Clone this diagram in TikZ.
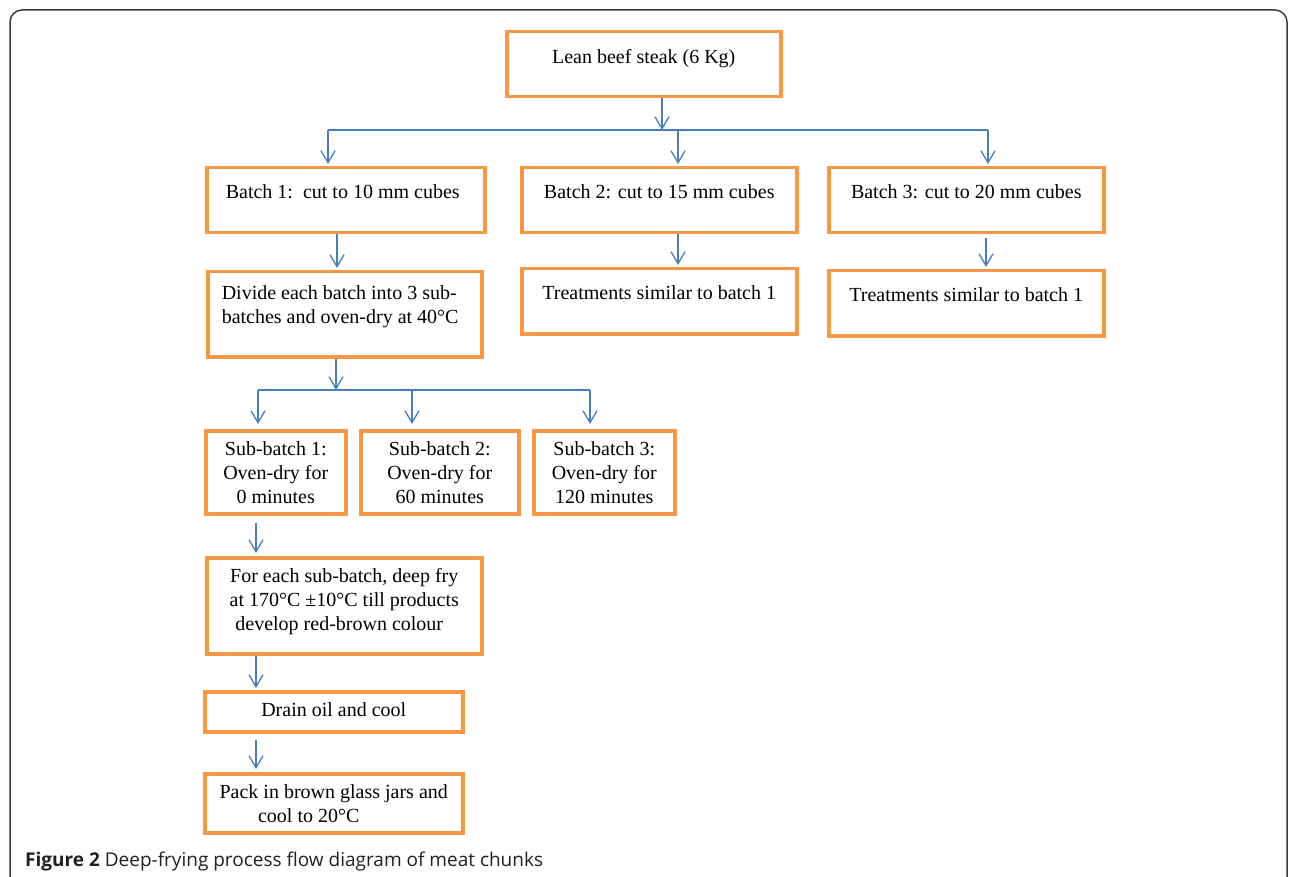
\documentclass[tikz,border=0pt]{standalone}
\usepackage{fontspec}
\setmainfont{Liberation Serif}
\newfontfamily\capfont{Open Sans}
\usetikzlibrary{arrows.meta}
\definecolor{boxorange}{HTML}{F79646}
\definecolor{arrblue}{HTML}{4A7EBB}
\definecolor{framegray}{HTML}{3A3A3A}
\definecolor{captext}{HTML}{231F20}
\newcommand{\bt}[4]{\parbox[t][#2pt][t]{#1pt}{\centering\rule{0pt}{#3pt}#4}}
\newcommand{\btl}[5]{\parbox[t][#2pt][t]{#1pt}{\raggedright\leftskip=#4pt\rule{0pt}{#3pt}#5}}
\tikzset{
  box/.style={draw=boxorange, line width=3.5pt, inner sep=0pt, anchor=north west,
    font=\fontsize{20}{24}\selectfont},
  arr/.style={draw=arrblue, line width=1.3pt, -{Straight Barb[length=12pt,width=14pt]}},
  busline/.style={draw=arrblue, line width=1.3pt}
}
\begin{document}
\begin{tikzpicture}[x=1pt,y=-1pt]
\useasboundingbox (0,0) rectangle (1290,877);
\draw[framegray, line width=1.5pt, rounded corners=12pt] (10,900) -- (10,10) -- (1287,10) -- (1287,900);

\node[box] (top) at (505,30) {\bt{274}{65}{32}{Lean beef steak (6 Kg)}};
\node[box] (b1) at (205,166) {\bt{278}{65}{31}{Batch 1:\ \ cut to 10 mm cubes\hspace*{6pt}}};
\node[box] (b2) at (520,166) {\bt{275}{65}{31}{Batch 2: cut to 15 mm cubes}};
\node[box] (b3) at (827,166) {\bt{275}{65}{31}{Batch 3: cut to 20 mm cubes}};
\node[box] (t2) at (520,267) {\bt{275}{65}{31}{Treatments similar to batch 1}};
\node[box] (t3) at (827,269) {\bt{275}{65}{31}{Treatments similar to batch 1}};
\node[box] (div) at (206,270) {\btl{274}{85}{28}{14}{Divide each batch into 3 sub-\\batches and oven-dry at 40°C}};
\node[box] (s1) at (204,429) {\bt{140}{83}{25}{Sub-batch 1:\\Oven-dry for\\0 minutes}};
\node[box] (s2) at (359,429) {\bt{158}{83}{25}{Sub-batch 2:\\Oven-dry for\\60 minutes}};
\node[box] (s3) at (532,429) {\bt{141}{83}{25}{Sub-batch 3:\\Oven-dry for\\120 minutes}};
\node[box] (fry) at (205,556) {\bt{275}{96}{25}{For each sub-batch, deep fry\hspace*{10pt}\\at 170°C ±10°C till products\hspace*{10pt}\\develop red-brown colour\hspace*{10pt}}};
\node[box] (drain) at (203,690) {\bt{258}{40}{25}{Drain oil and cool}};
\node[box] (pack) at (203,772) {\bt{258}{59}{25}{Pack in brown glass jars and\\cool to 20°C\hspace*{50pt}}};

\coordinate (busA) at (328,130);
\coordinate (busB) at (988,130);
\coordinate (busM) at (662,130);
\coordinate (busC) at (678,130);
\draw[arr] (busM |- top.south) -- (busM);
\draw[busline] (busA) -- (busB);
\draw[arr, shorten >=2pt] (busA) -- (busA |- b1.north);
\draw[arr, shorten >=2pt] (busC) -- (busC |- b2.north);
\draw[arr, shorten >=2pt] (busB) -- (busB |- b3.north);

\draw[arr, shorten >=2pt] (337,0 |- b1.south) -- (337,0 |- div.north);
\draw[arr, shorten >=2pt] (678,0 |- b2.south) -- (678,0 |- t2.north);
\draw[arr, shorten <=4pt, shorten >=2pt] (986,0 |- b3.south) -- (986,0 |- t3.north);

\coordinate (busD) at (336,390);
\coordinate (busE) at (258,390);
\coordinate (busF) at (590,390);
\coordinate (busG) at (412,390);
\draw[arr] (busD |- div.south) -- (busD);
\draw[busline] (busE) -- (busF);
\draw[arr, shorten >=5pt] (busE) -- (busE |- s1.north);
\draw[arr, shorten >=5pt] (busG) -- (busG |- s2.north);
\draw[arr, shorten >=5pt] (busF) -- (busF |- s3.north);

\draw[arr, shorten <=7pt, shorten >=3pt] (256,0 |- s1.south) -- (256,0 |- fry.north);
\draw[arr, shorten >=2pt] (256,0 |- fry.south) -- (256,0 |- drain.north);
\draw[arr, shorten <=6pt, shorten >=3pt] (256,0 |- drain.south) -- (256,0 |- pack.north);

\node[anchor=base west, inner sep=0pt, text=captext, font=\capfont\fontsize{19}{22}\selectfont] (cap) at (25,866) {\textbf{Figure 2} Deep-frying process flow diagram of meat chunks};
\end{tikzpicture}
\end{document}
